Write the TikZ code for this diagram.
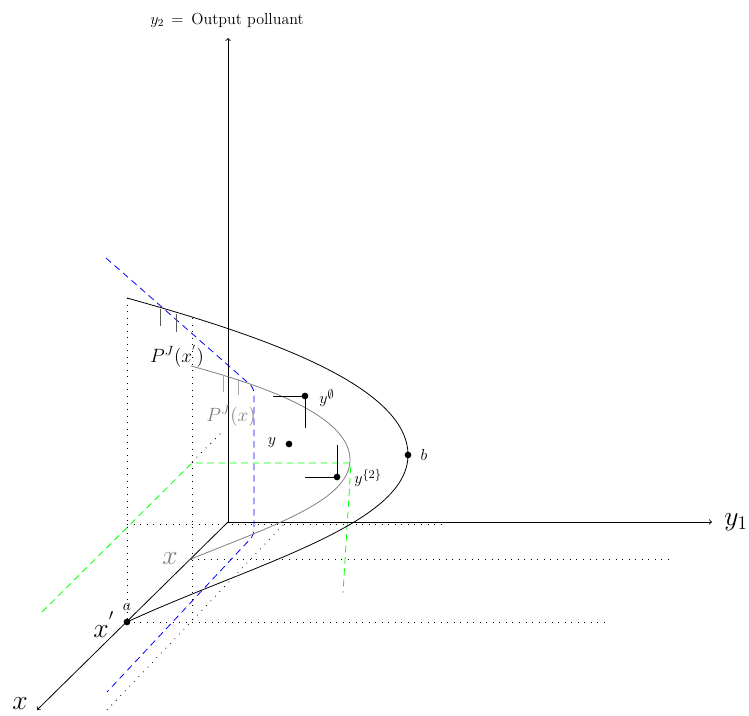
\documentclass[tikz,border=0pt]{standalone}
\begin{document}
\begin{tikzpicture}[x=0.75pt,y=0.75pt,
  axis/.style={->, line width=0.6pt},
  curve/.style={line width=0.6pt},
  dotline/.style={line width=0.6pt, dash pattern=on 0.6pt off 4.3pt},
  bluedash/.style={blue, line width=0.6pt, dash pattern=on 5pt off 3.5pt},
  greendash/.style={green, line width=0.6pt, dash pattern=on 5pt off 3.5pt},
  pt/.style={circle, fill=black, inner sep=0pt, minimum size=5pt},
  darktick/.style={black!65, line width=0.6pt},
  lighttick/.style={black!35, line width=0.6pt},
  lbl/.style={inner sep=0pt}]
\useasboundingbox (0,0) rectangle (749,-716);

% axes
\coordinate (O) at (228,-522);
\coordinate (Y2) at (228,-38);
\coordinate (Y1) at (712,-522);
\coordinate (X) at (37,-710);
\draw[axis] (O) -- (Y2);
\draw[axis] (O) -- (Y1);
\draw[axis] (O) -- (X);
\node[lbl] (y2lbl) at (227,-20) {\large $y_2\,=\,$ Output polluant};
\node[lbl] (y1lbl) at (736,-522) {\huge $y_1$};
\node[lbl] (xlbl) at (20,-704) {\huge $x$};

% key coordinates
\coordinate (a0) at (127,-622);
\coordinate (b0) at (408,-455);
\coordinate (top) at (127,-298);
\coordinate (xg) at (191,-559);
\coordinate (gright) at (350,-460);
\coordinate (gtop) at (191,-366);

% dotted guide lines
\draw[dotline] (top) -- (a0);
\coordinate (d1) at (192,-318);
\coordinate (d2) at (192,-620);
\draw[dotline] (d1) -- (d2);
\coordinate (h1a) at (127,-524);
\coordinate (h1b) at (443,-524);
\draw[dotline] (h1a) -- (h1b);
\coordinate (h2b) at (670,-559);
\draw[dotline] (xg) -- (h2b);
\coordinate (h3b) at (607,-622);
\draw[dotline] (a0) -- (h3b);
\coordinate (g1) at (107,-710);
\coordinate (g2) at (285,-523);
\draw[dotline] (g1) -- (g2);
\coordinate (s1) at (192,-462);
\coordinate (s2) at (223,-431);
\draw[dotline] (s1) -- (s2);

% blue dashed
\coordinate (bl1) at (106,-258);
\coordinate (bl2) at (254,-388);
\coordinate (bl3) at (254,-535);
\coordinate (bl4) at (107,-692);
\draw[bluedash, rounded corners=4pt] (bl1) -- (bl2) -- (bl3) -- (bl4);

% green dashed
\coordinate (gr1) at (42,-612);
\coordinate (gr2) at (192,-463);
\coordinate (gr3) at (351,-463);
\coordinate (gr4) at (343,-593);
\draw[greendash] (gr1) -- (gr2) -- (gr3) -- (gr4);

% gray frontier P^J(x)
\draw[curve, black!50] (xg) .. controls (275,-525) and (350,-500) .. (gright)
   .. controls (350,-420) and (280,-390) .. (gtop);
% black frontier P^J(x')
\draw[curve] (a0) .. controls (250,-565) and (408,-525) .. (b0)
   .. controls (408,-385) and (260,-335) .. (top);

% ticks
\draw[darktick] (160,-309) -- (160,-326);
\draw[darktick] (176,-314) -- (176,-332);
\draw[lighttick] (223,-375) -- (223,-392);
\draw[lighttick] (238,-379) -- (238,-395);

% points
\node[pt] (a) at (a0) {};
\node[pt] (b) at (b0) {};
\node[pt] (ye) at (305,-396) {};
\node[pt] (y) at (289,-444) {};
\node[pt] (y2p) at (337,-477) {};
\coordinate (ye1) at (273,-396);
\coordinate (ye2) at (305,-428);
\draw[line width=0.6pt] (ye1) -- (ye.center) -- (ye2);
\coordinate (y21) at (305,-477);
\coordinate (y22) at (337,-445);
\draw[line width=0.6pt] (y21) -- (y2p.center) -- (y22);

% labels
\node[lbl] (alb) at (127,-607) {\large $a$};
\node[lbl] (blb) at (424,-455) {\large $b$};
\node[lbl] (yelb) at (327,-398) {\large $y^{\mbox{\small$\emptyset$}}$};
\node[lbl] (ylb) at (272,-443) {\large $y$};
\node[lbl] (y2lb) at (368,-478) {\large $y^{\mbox{\small$\{2\}$}}$};
\node[lbl] (xplb) at (104,-625) {\huge $x^{'}$};
\node[lbl, black!50] (xglb) at (170,-559) {\huge $x$};
\node[lbl] (pjxp) at (177,-356) {\Large $P^{J}(x^{'})$};
\node[lbl, black!50] (pjx) at (231,-416) {\Large $P^{J}(x)$};
\end{tikzpicture}
\end{document}
